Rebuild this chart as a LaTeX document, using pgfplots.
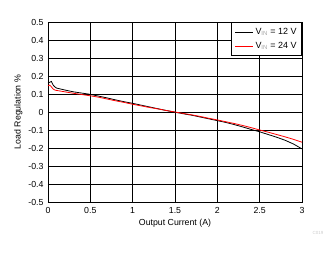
\documentclass[border=0pt]{standalone}
\usepackage{pgfplots}
\pgfplotsset{compat=1.18}
\usepackage{fontspec}
\setmainfont{Liberation Sans}
\begin{document}
\begin{tikzpicture}[x=1bp,y=1bp]
\useasboundingbox (0,0) rectangle (331,254);
\begin{axis}[
  at={(48bp,52bp)}, anchor=south west,
  width=254bp, height=180bp, scale only axis,
  xmin=0, xmax=3, ymin=-0.5, ymax=0.5,
  xtick={0,0.5,...,3}, ytick={-0.5,-0.4,...,0.5},
  grid=major, major grid style={black, line width=0.8pt},
  axis line style={black, line width=0.8pt},
  major tick length=0pt,
  tick label style={font=\fontsize{8.8}{10}\selectfont},
  /pgf/number format/assume math mode=true,
  /pgf/number format/fixed,
  yticklabel style={/pgf/number format/precision=1, xshift=-1pt},
  xticklabel style={yshift=-2pt},
  xlabel={Output Current (A)}, ylabel={Load Regulation \%},
  label style={font=\fontsize{8.8}{10}\selectfont},
  xlabel style={yshift=1pt},
  ylabel style={yshift=-1pt},
  legend style={at={(1,1)}, anchor=north east, draw=black, line width=0.8pt, fill=white,
    font=\fontsize{9}{11}\selectfont, inner xsep=3pt, inner ysep=4pt, row sep=2pt},
  legend cell align=left,
  legend image code/.code={\draw[#1] (0bp,0bp) -- (18bp,0bp);},
]
\addplot[black, line width=0.8pt] coordinates {
(0,0.16)(0.02,0.165)(0.04,0.17)(0.05,0.16)(0.06,0.15)(0.08,0.14)(0.1,0.133)(0.2,0.122)(0.3,0.112)(0.4,0.105)(0.5,0.098)(0.6,0.088)(0.7,0.078)(0.8,0.067)(0.9,0.057)(1.0,0.048)(1.1,0.038)(1.2,0.028)(1.3,0.018)(1.4,0.008)(1.5,-0.001)(1.6,-0.01)(1.7,-0.018)(1.8,-0.028)(1.9,-0.038)(2.0,-0.048)(2.1,-0.058)(2.2,-0.07)(2.3,-0.083)(2.4,-0.097)(2.5,-0.11)(2.6,-0.125)(2.7,-0.14)(2.8,-0.157)(2.9,-0.178)(3.0,-0.205)
};
\addlegendentry{V\textsubscript{\color{gray!70}IN} = 12 V}
\addplot[red, line width=0.8pt] coordinates {
(0,0.145)(0.02,0.15)(0.04,0.14)(0.06,0.128)(0.08,0.122)(0.1,0.12)(0.2,0.112)(0.3,0.104)(0.4,0.097)(0.5,0.09)(0.6,0.082)(0.7,0.072)(0.8,0.062)(0.9,0.053)(1.0,0.043)(1.1,0.034)(1.2,0.025)(1.3,0.017)(1.4,0.008)(1.5,0.0)(1.6,-0.008)(1.7,-0.016)(1.8,-0.025)(1.9,-0.035)(2.0,-0.044)(2.1,-0.054)(2.2,-0.064)(2.3,-0.075)(2.4,-0.087)(2.5,-0.1)(2.6,-0.112)(2.7,-0.125)(2.8,-0.138)(2.9,-0.152)(3.0,-0.168)
};
\addlegendentry{V\textsubscript{\color{gray!70}IN} = 24 V}
\end{axis}
\node[anchor=center, text=gray!40, font=\fontsize{4.5}{5}\selectfont] at (318,21) {C019};
\end{tikzpicture}
\end{document}
